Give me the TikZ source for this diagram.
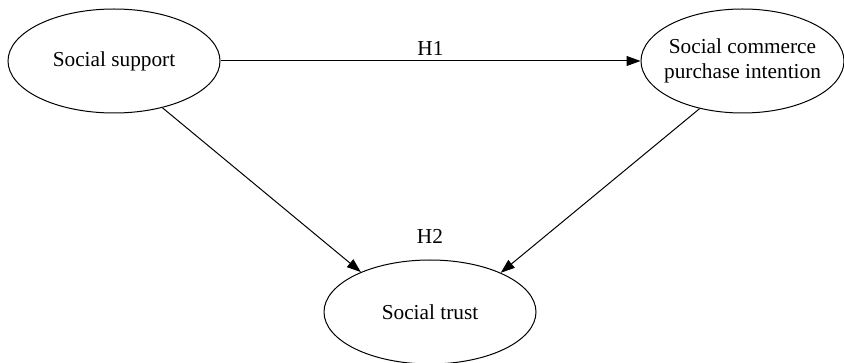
\documentclass[tikz,border=0pt]{standalone}
\usepackage{fontspec}
\setmainfont{Liberation Serif}
\usetikzlibrary{shapes.geometric, arrows.meta, positioning}
\tikzset{
    latent/.style={draw, ellipse, line width=1pt, minimum width=212pt, minimum height=104pt, inner sep=0pt, align=center, font=\fontsize{21.3}{25}\selectfont},
    arrow/.style={draw, -{Triangle[length=14pt, width=10pt]}, line width=1pt},
    hyp/.style={font=\fontsize{21.3}{25}\selectfont, inner sep=2pt}
}

\begin{document}
\begin{tikzpicture}[x=1pt, y=1pt]
    \useasboundingbox (0,0) rectangle (844,-363);
    \node [latent] (support) at (114,-61) {Social support};
    \node [latent, minimum width=203pt, inner xsep=-7pt, right=420pt of support] (commerce) {Social commerce\\purchase intention};
    \node [latent] (trust) at (430,-312) {Social trust};
    \node [hyp, above=14pt of trust] (h2) {H2};

    \draw [arrow] (support) -- node [hyp, above=3pt] {H1} (commerce);
    \draw [arrow] (support.-44) -- (trust.150);
    \draw [arrow] (commerce.-132) -- (trust.29);
\end{tikzpicture}
\end{document}
